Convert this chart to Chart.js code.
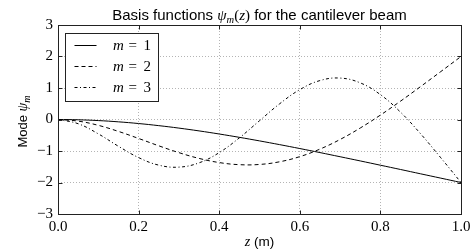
<!DOCTYPE html>
<html>
<head>
<meta charset="utf-8">
<script src="https://cdn.jsdelivr.net/npm/chart.js@4.4.1/dist/chart.umd.min.js"></script>
<style>
  html, body { margin: 0; padding: 0; background: #fff; }
  #c { display: block; }
</style>
</head>
<body>
<canvas id="c" width="475" height="251"></canvas>
<script>
// ---- data ----
const zValues = [0.00, 0.05, 0.10, 0.15, 0.20, 0.25, 0.30, 0.35, 0.40, 0.45, 0.50,
                 0.55, 0.60, 0.65, 0.70, 0.75, 0.80, 0.85, 0.90, 0.95, 1.00];
const mode1 = [0, -0.009, -0.034, -0.074, -0.128, -0.195, -0.273, -0.362, -0.460, -0.566, -0.679,
               -0.798, -0.922, -1.050, -1.182, -1.315, -1.451, -1.587, -1.725, -1.862, -2.0];
const mode2 = [0, -0.051, -0.185, -0.378, -0.602, -0.835, -1.052, -1.235, -1.367, -1.434, -1.427,
               -1.342, -1.179, -0.940, -0.634, -0.270, 0.140, 0.583, 1.048, 1.522, 2.0];
const mode3 = [0, -0.134, -0.456, -0.850, -1.209, -1.449, -1.512, -1.376, -1.052, -0.583, -0.039,
               0.499, 0.948, 1.236, 1.315, 1.163, 0.790, 0.232, -0.457, -1.217, -2.0];
const seriesNames = ['m = 1', 'm = 2', 'm = 3'];
const xTicks = [0.0, 0.2, 0.4, 0.6, 0.8, 1.0];
const yTicks = [-3, -2, -1, 0, 1, 2, 3];
const titleParts = ['Basis functions ', 'ψ', 'm', '(', 'z', ')', ' for the cantilever beam'];
const xLabelParts = ['z', ' (m)'];
const yLabelParts = ['Mode ', 'ψ', 'm'];

const SANS = '"Liberation Sans", Arial, Helvetica, sans-serif';
const SERIF = '"Liberation Serif", "Times New Roman", serif';

const dashStyles = [[], [4, 3], [3, 2.5, 1, 2.5]];
const seriesData = [mode1, mode2, mode3];

const datasets = seriesData.map((arr, i) => ({
  label: seriesNames[i],
  data: zValues.map((z, j) => ({ x: z, y: arr[j] })),
  borderColor: '#000',
  borderWidth: 1,
  borderDash: dashStyles[i],
  pointRadius: 0,
  fill: false,
  tension: 0.4
}));

function drawParts(ctx, parts, x, y) {
  // parts: [{t, font, dy}]
  let w = 0;
  parts.forEach(p => { ctx.font = p.font; w += ctx.measureText(p.t).width; });
  let cx = x - w / 2;
  parts.forEach(p => {
    ctx.font = p.font;
    ctx.fillText(p.t, cx, y + (p.dy || 0));
    cx += ctx.measureText(p.t).width;
  });
  return w;
}

const decorPlugin = {
  id: 'decor',
  afterDatasetsDraw(chart) {
    const ctx = chart.ctx;
    const ca = chart.chartArea;
    const xs = chart.scales.x, ys = chart.scales.y;
    const L = Math.round(ca.left) + 0.5, R = Math.round(ca.right) + 0.5;
    const T = Math.round(ca.top) + 0.5, B = Math.round(ca.bottom) + 0.5;
    ctx.save();
    ctx.strokeStyle = '#222';
    ctx.lineWidth = 1;
    ctx.setLineDash([]);
    ctx.strokeRect(L, T, R - L, B - T);
    // inward ticks on all four sides
    ctx.beginPath();
    xTicks.forEach(v => {
      const px = Math.round(xs.getPixelForValue(v)) + 0.5;
      ctx.moveTo(px, B); ctx.lineTo(px, B - 4);
      ctx.moveTo(px, T); ctx.lineTo(px, T + 4);
    });
    yTicks.forEach(v => {
      const py = Math.round(ys.getPixelForValue(v)) + 0.5;
      ctx.moveTo(L, py); ctx.lineTo(L + 4, py);
      ctx.moveTo(R, py); ctx.lineTo(R - 4, py);
    });
    ctx.stroke();

    // legend box
    const lx = Math.round(ca.left) + 7.5, ly = Math.round(ca.top) + 8.5;
    const lw = 93, lh = 68;
    ctx.fillStyle = '#fff';
    ctx.fillRect(lx, ly, lw, lh);
    ctx.strokeStyle = '#222';
    ctx.strokeRect(lx, ly, lw, lh);
    chart.data.datasets.forEach((ds, i) => {
      const ry = ly + 12 + i * 21;
      ctx.save();
      ctx.strokeStyle = ds.borderColor;
      ctx.lineWidth = ds.borderWidth;
      ctx.setLineDash(ds.borderDash || []);
      ctx.beginPath();
      ctx.moveTo(lx + 9, ry); ctx.lineTo(lx + 31, ry);
      ctx.stroke();
      ctx.restore();
      ctx.fillStyle = '#000';
      ctx.textBaseline = 'alphabetic';
      ctx.textAlign = 'left';
      const lbl = ds.label; // "m = k"
      const sym = lbl.split(' = ')[0];
      const num = lbl.split(' = ')[1];
      ctx.font = 'italic 15px ' + SERIF;
      ctx.fillText(sym, lx + 47.5, ry + 4.5);
      ctx.font = '15px ' + SERIF;
      ctx.fillText('=', lx + 63, ry + 4.5);
      ctx.fillText(num, lx + 78, ry + 4.5);
    });
    ctx.restore();
  },
  afterDraw(chart) {
    const ctx = chart.ctx;
    const ca = chart.chartArea;
    ctx.save();
    ctx.fillStyle = '#000';
    ctx.textBaseline = 'alphabetic';
    ctx.textAlign = 'left';
    const cx = (ca.left + ca.right) / 2;
    // title
    drawParts(ctx, [
      { t: titleParts[0], font: '15px ' + SANS },
      { t: titleParts[1], font: 'italic 15px ' + SERIF },
      { t: titleParts[2], font: 'italic 10.5px ' + SERIF, dy: 3 },
      { t: titleParts[3], font: '15px ' + SERIF },
      { t: titleParts[4], font: 'italic 15px ' + SERIF },
      { t: titleParts[5], font: '15px ' + SERIF },
      { t: titleParts[6], font: '15px ' + SANS }
    ], cx, 20);
    // x label
    drawParts(ctx, [
      { t: xLabelParts[0], font: 'italic 14px ' + SERIF },
      { t: xLabelParts[1], font: '13.5px ' + SANS }
    ], cx, 246);
    // y label
    ctx.translate(26.5, (ca.top + ca.bottom) / 2 + 2);
    ctx.rotate(-Math.PI / 2);
    drawParts(ctx, [
      { t: yLabelParts[0], font: '13px ' + SANS },
      { t: yLabelParts[1], font: 'italic 14px ' + SERIF },
      { t: yLabelParts[2], font: 'italic 10px ' + SERIF, dy: 3 }
    ], 0, 0);
    ctx.restore();
  }
};

new Chart(document.getElementById('c'), {
  type: 'line',
  data: { datasets },
  plugins: [decorPlugin],
  options: {
    responsive: false,
    animation: false,
    events: [],
    layout: { padding: { top: 25, right: 14, left: 0, bottom: 0 } },
    plugins: { legend: { display: false }, title: { display: false }, tooltip: { enabled: false } },
    scales: {
      x: {
        type: 'linear', min: 0, max: 1,
        afterBuildTicks: s => { s.ticks = xTicks.map(v => ({ value: v })); },
        afterFit: s => { s.height = 37; },
        ticks: {
          callback: v => Number(v).toFixed(1),
          font: { family: SERIF, size: 15 },
          color: '#000', padding: 4, maxRotation: 0, autoSkip: false
        },
        grid: { color: '#b4b4b4', lineWidth: 1, drawTicks: false },
        border: { display: false, dash: [1, 2] }
      },
      y: {
        type: 'linear', min: -3, max: 3,
        afterBuildTicks: s => { s.ticks = yTicks.map(v => ({ value: v })); },
        afterFit: s => { s.width = 58; },
        ticks: {
          callback: v => (v < 0 ? '\u2212' : '') + Math.abs(v),
          font: { family: SERIF, size: 15 },
          color: '#000', padding: 5, autoSkip: false
        },
        grid: { color: '#b4b4b4', lineWidth: 1, drawTicks: false },
        border: { display: false, dash: [1, 2] }
      }
    }
  }
});
</script>
</body>
</html>
